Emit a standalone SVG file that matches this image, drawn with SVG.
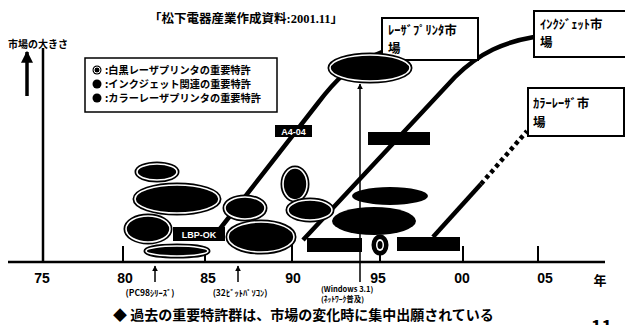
<svg xmlns="http://www.w3.org/2000/svg" width="625" height="325" viewBox="0 0 625 325">
<style>
.jp{font-family:"Noto Sans CJK JP","Liberation Sans",sans-serif;font-weight:bold;fill:#000}
.num{font-family:"Liberation Sans","DejaVu Sans",sans-serif;font-weight:bold;font-size:14px;fill:#000}
.ttl{font-family:"Liberation Serif","Noto Sans CJK JP",serif;font-weight:bold;font-size:12.5px}
.mk{fill:none;stroke:#000;stroke-width:4.5}
.ax{fill:none;stroke:#000;stroke-width:2.5}
.tk{stroke:#000;stroke-width:2}
.ob{fill:#000;stroke:#000;stroke-width:5}
.ir{fill:none;stroke:#fff;stroke-width:1.6}
.sol{fill:#000}
.lab{fill:#000}
.box{fill:#fff;stroke:#000;stroke-width:2}
.wt{font-family:"Liberation Sans",sans-serif;font-weight:bold;font-size:9px;fill:#fff}
</style>
<defs>
<marker id="ah" viewBox="0 0 10 10" refX="9" refY="5" markerWidth="6" markerHeight="6" orient="auto" markerUnits="userSpaceOnUse">
<path d="M0,0 L10,5 L0,10 z" fill="#000"/>
</marker>
<marker id="ahb" viewBox="0 0 10 10" refX="9" refY="5" markerWidth="12" markerHeight="12" orient="auto" markerUnits="userSpaceOnUse">
<path d="M0,0 L10,5 L0,10 z" fill="#000"/>
</marker>
</defs>
<rect width="625" height="325" fill="#fff"/>

<text class="jp ttl" x="149" y="23">「松下電器産業作成資料:2001.11」</text>

<g id="yaxis">
<text class="jp" x="8" y="48" font-size="10">市場の大きさ</text>
<line x1="27" y1="96" x2="27" y2="52" stroke="#000" stroke-width="3.5" marker-end="url(#ahb)"/>
<line class="ax" x1="43" y1="48" x2="43" y2="262"/>
</g>

<g id="xaxis">
<line class="ax" x1="8" y1="262" x2="605" y2="262"/>
<line class="tk" x1="123" y1="246" x2="123" y2="262"/>
<line class="tk" x1="205" y1="252" x2="205" y2="262"/>
<line class="tk" x1="292" y1="238" x2="292" y2="262"/>
<line class="tk" x1="463" y1="246" x2="463" y2="262"/>
<line class="tk" x1="538" y1="246" x2="538" y2="262"/>
<text class="num" x="42" y="283" text-anchor="middle">75</text>
<text class="num" x="125" y="283" text-anchor="middle">80</text>
<text class="num" x="208" y="283" text-anchor="middle">85</text>
<text class="num" x="293" y="283" text-anchor="middle">90</text>
<text class="num" x="378" y="283" text-anchor="middle">95</text>
<text class="num" x="462" y="283" text-anchor="middle">00</text>
<text class="num" x="545" y="283" text-anchor="middle">05</text>
<text class="jp" x="600" y="285" font-size="13" text-anchor="middle">年</text>
</g>

<g id="legend">
<rect x="85" y="58" width="192" height="54" fill="#fff" stroke="#000" stroke-width="1.5"/>
<circle cx="97" cy="70" r="4.5" fill="#000"/><circle cx="97" cy="70" r="3" fill="none" stroke="#fff" stroke-width="1"/>
<circle cx="97" cy="84" r="4.5" fill="#000"/>
<circle cx="97" cy="98" r="4.5" fill="#000"/>
<text class="jp" x="105" y="74" font-size="10.2">:白黒レーザプリンタの重要特許</text>
<text class="jp" x="105" y="88" font-size="10.2">:インクジェット関連の重要特許</text>
<text class="jp" x="105" y="102" font-size="10.2">:カラーレーザプリンタの重要特許</text>
</g>

<g id="connectors">
<path class="mk" d="M212,239 L318,103 C334,82 350,64 382,52"/>
<path class="mk" d="M303,240 L455,77 C480,52 505,42 534,37"/>
<path class="mk" d="M433,237 L481,184"/>
<path class="mk" d="M481,184 L527,131" stroke-dasharray="4 3.5" stroke-width="5.5"/>
<line x1="360" y1="282" x2="360" y2="84" stroke="#000" stroke-width="1.5" marker-end="url(#ah)"/>
<line x1="155" y1="282" x2="155" y2="266" stroke="#000" stroke-width="1.5" marker-end="url(#ah)"/>
<line x1="238" y1="282" x2="238" y2="266" stroke="#000" stroke-width="1.5" marker-end="url(#ah)"/>
</g>

<g id="market-laser">
<rect class="box" x="382" y="18" width="96" height="42"/>
<text class="jp" x="388" y="35" font-size="12.5">ﾚｰｻﾞﾌﾟﾘﾝﾀ市</text>
<text class="jp" x="388" y="53" font-size="12.5">場</text>
</g>
<g id="market-inkjet">
<rect class="box" x="534" y="11" width="95" height="46"/>
<text class="jp" x="540" y="29" font-size="12.5">ｲﾝｸｼﾞｪｯﾄ市</text>
<text class="jp" x="540" y="47" font-size="12.5">場</text>
</g>
<g id="market-color">
<rect class="box" x="528" y="88" width="96" height="48"/>
<text class="jp" x="533" y="108" font-size="12.5">ｶﾗｰﾚｰｻﾞ市</text>
<text class="jp" x="533" y="127" font-size="12.5">場</text>
</g>

<g id="patents">
<g id="p-big"><ellipse class="ob" cx="370" cy="68" rx="40" ry="13"/><ellipse class="ir" cx="370" cy="68" rx="40" ry="13"/></g>
<g id="p1"><ellipse class="ob" cx="157" cy="172" rx="20" ry="8"/><ellipse class="ir" cx="157" cy="172" rx="20" ry="8"/></g>
<g id="p2"><ellipse class="ob" cx="177" cy="199" rx="42" ry="14"/><ellipse class="ir" cx="177" cy="199" rx="42" ry="14"/></g>
<g id="p3"><ellipse class="ob" cx="148" cy="229" rx="22" ry="13"/><ellipse class="ir" cx="148" cy="229" rx="22" ry="13"/></g>
<g id="p4"><ellipse class="ob" cx="177" cy="251" rx="31" ry="5"/><ellipse class="ir" cx="177" cy="251" rx="31" ry="5"/></g>
<g id="p5"><ellipse class="ob" cx="245" cy="208" rx="20" ry="11"/><ellipse class="ir" cx="245" cy="208" rx="20" ry="11"/></g>
<g id="p6"><ellipse class="ob" cx="261" cy="237" rx="33" ry="15"/><ellipse class="ir" cx="261" cy="237" rx="33" ry="15"/></g>
<g id="p7"><ellipse class="ob" cx="295" cy="184" rx="12" ry="16"/><ellipse class="ir" cx="295" cy="184" rx="12" ry="16"/></g>
<g id="p8"><ellipse class="ob" cx="310" cy="210" rx="22" ry="10"/><ellipse class="ir" cx="310" cy="210" rx="22" ry="10"/></g>
<g id="p9"><ellipse class="sol" cx="390" cy="196" rx="38" ry="9"/></g>
<g id="p10"><ellipse class="sol" cx="374" cy="221" rx="42" ry="14"/></g>
<g id="p11"><line class="tk" x1="380" y1="250" x2="380" y2="262"/><ellipse class="ob" cx="380" cy="245" rx="6" ry="8"/><ellipse fill="#fff" cx="380" cy="245" rx="4" ry="6"/><ellipse class="sol" cx="380" cy="245" rx="2.5" ry="4"/></g>
</g>

<g id="labels">
<g id="l-a4"><rect class="lab" x="275" y="125" width="37" height="12"/><text class="wt" x="293.5" y="134.5" text-anchor="middle">A4-04</text></g>
<g id="l-2"><rect class="lab" x="368" y="132" width="62" height="13"/></g>
<g id="l-lbp"><rect class="lab" x="173" y="227" width="52" height="14"/><text class="wt" x="199" y="237.5" text-anchor="middle">LBP-OK</text></g>
<g id="l-3"><rect class="lab" x="307" y="238" width="55" height="14"/></g>
<g id="l-4"><rect class="lab" x="397" y="237" width="63" height="14"/></g>
</g>

<g id="events">
<text class="jp" x="150" y="296" font-size="8.5" text-anchor="middle">(PC98ｼﾘｰｽﾞ)</text>
<text class="jp" x="240" y="296" font-size="8.5" text-anchor="middle">(32ﾋﾞｯﾄﾊﾟｿｺﾝ)</text>
<text class="jp" x="321" y="292" font-size="7.5">(Windows 3.1)</text>
<text class="jp" x="321" y="302" font-size="7.5">(ﾈｯﾄﾜｰｸ普及)</text>
</g>

<text class="jp" x="113" y="320" font-size="14">◆ 過去の重要特許群は、市場の変化時に集中出願されている</text>
<text class="jp" x="591" y="333" font-size="18">11</text>
</svg>
